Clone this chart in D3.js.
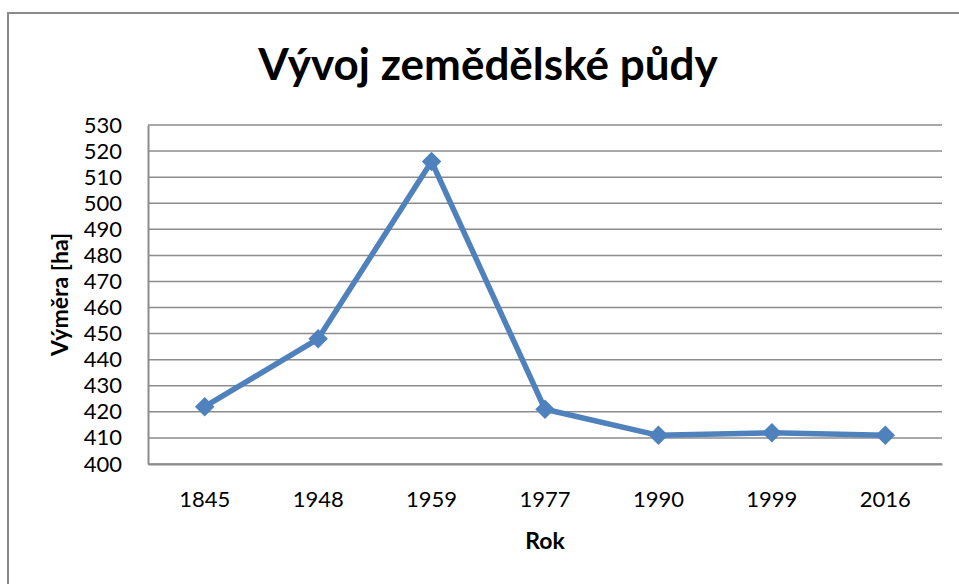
<!DOCTYPE html>
<html>
<head>
<meta charset="utf-8">
<script src="https://cdn.jsdelivr.net/npm/d3@7"></script>
<style>
  html, body { margin: 0; padding: 0; background: #fff; }
  text { font-family: Lato, "Open Sans", sans-serif; fill: #000; }
</style>
</head>
<body>
<div id="chart"></div>
<script>
const width = 959;
const height = 584;

const years = ["1845", "1948", "1959", "1977", "1990", "1999", "2016"];
const area = [422, 448, 516, 421, 411, 412, 411];
const yTicks = [400, 410, 420, 430, 440, 450, 460, 470, 480, 490, 500, 510, 520, 530];

const titleText = "Vývoj zemědělské půdy";
const xTitle = "Rok";
const yTitle = "Výměra [ha]";

const margin = { left: 148, right: 959 - 942, top: 125, bottom: 584 - 464 };
const lineColor = "#4f81bd";
const gridColor = "#8c8c8c";

const svg = d3.select("#chart")
    .append("svg")
    .attr("width", width)
    .attr("height", height);

// outer chart border (only top and left visible in the crop)
svg.append("rect")
    .attr("x", 8)
    .attr("y", 13)
    .attr("width", width + 20)
    .attr("height", height + 20)
    .attr("fill", "none")
    .attr("stroke", "#8a8a8a")
    .attr("stroke-width", 2);

const x = d3.scaleBand()
    .domain(years)
    .range([margin.left, width - margin.right])
    .padding(0);

const y = d3.scaleLinear()
    .domain([400, 530])
    .range([height - margin.bottom, margin.top]);

// gridlines
svg.append("g")
    .selectAll("line")
    .data(yTicks)
    .enter()
    .append("line")
    .attr("x1", margin.left)
    .attr("x2", width - margin.right)
    .attr("y1", d => y(d))
    .attr("y2", d => y(d))
    .attr("stroke", gridColor)
    .attr("stroke-width", 1.5);

// y axis
const yAxis = svg.append("g")
    .attr("transform", `translate(${margin.left},0)`)
    .call(d3.axisLeft(y).tickValues(yTicks).tickSize(0).tickPadding(26));
yAxis.select(".domain").attr("stroke", gridColor).attr("stroke-width", 2);
yAxis.selectAll("text")
    .attr("font-size", "22px")
    .attr("font-family", "Lato, sans-serif")
    .attr("fill", "#000");

// x axis
const xAxis = svg.append("g")
    .attr("transform", `translate(0,${y(400)})`)
    .call(d3.axisBottom(x).tickSize(0).tickPadding(27));
xAxis.select(".domain").attr("stroke", gridColor).attr("stroke-width", 2);
xAxis.selectAll("text")
    .attr("font-size", "22px")
    .attr("font-family", "Lato, sans-serif")
    .attr("fill", "#000");

// line
const line = d3.line()
    .x((d, i) => x(years[i]) + x.bandwidth() / 2)
    .y(d => y(d));

svg.append("path")
    .datum(area)
    .attr("d", line)
    .attr("fill", "none")
    .attr("stroke", lineColor)
    .attr("stroke-width", 5.5)
    .attr("stroke-linejoin", "round");

// diamond markers
svg.append("g")
    .selectAll("path")
    .data(area)
    .enter()
    .append("path")
    .attr("d", d3.symbol().type(d3.symbolSquare).size(190))
    .attr("transform", (d, i) => `translate(${x(years[i]) + x.bandwidth() / 2},${y(d)}) rotate(45)`)
    .attr("fill", lineColor);

// titles
svg.append("text")
    .attr("x", 488)
    .attr("y", 80)
    .attr("text-anchor", "middle")
    .attr("font-size", "44px")
    .attr("font-weight", "bold")
    .text(titleText);

svg.append("text")
    .attr("x", (margin.left + width - margin.right) / 2)
    .attr("y", 549)
    .attr("text-anchor", "middle")
    .attr("font-size", "23px")
    .attr("font-weight", "bold")
    .text(xTitle);

svg.append("text")
    .attr("transform", `translate(68,${(y(400) + y(530)) / 2}) rotate(-90)`)
    .attr("text-anchor", "middle")
    .attr("font-size", "23px")
    .attr("font-weight", "bold")
    .text(yTitle);
</script>
</body>
</html>
